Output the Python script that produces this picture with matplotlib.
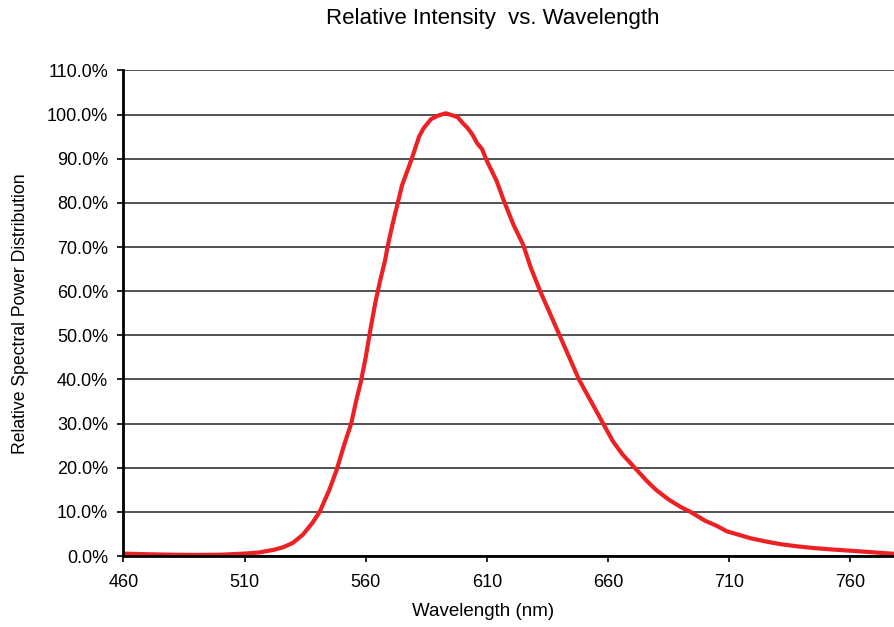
import matplotlib

matplotlib.use("Agg")

import matplotlib.pyplot as plt
from matplotlib.ticker import FuncFormatter

# spectral curve (wavelength nm, relative power %)
wavelength = [
    460, 470, 480, 490, 500, 510, 516, 522, 526, 530, 534, 538, 541, 545, 548,
    551, 554, 556, 558, 560, 562, 564, 566, 568, 569, 571, 573, 575, 577, 579,
    582, 584, 587, 590, 593, 596, 598, 600, 602, 604, 606, 608, 610, 614, 617,
    621, 625, 628, 632, 636, 640, 644, 648, 651, 654, 658, 662, 666, 671, 676,
    680, 685, 690, 694, 700, 705, 709, 714, 719, 725, 731, 738, 745, 752, 760,
    768, 778,
]
relative_power = [
    0.55, 0.4, 0.3, 0.25, 0.3, 0.55, 0.8, 1.4, 2.0, 3.0, 4.8, 7.5, 10.0, 15.0, 19.5,
    25.0, 30.0, 35.0, 39.5, 45.0, 51.5, 57.5, 62.5, 67.0, 70.0, 75.0, 79.5, 84.0, 87.0, 90.0,
    95.0, 97.0, 99.0, 99.8, 100.3, 99.8, 99.4, 98.1, 97.0, 95.5, 93.5, 92.2, 89.5, 85.0, 80.5,
    75.0, 70.5, 65.5, 60.0, 55.0, 50.0, 45.0, 40.0, 37.0, 34.0, 30.0, 26.0, 23.0, 20.0, 17.0,
    14.9, 12.8, 11.1, 10.0, 8.0, 6.8, 5.6, 4.8, 4.0, 3.3, 2.7, 2.2, 1.8, 1.5, 1.2,
    0.9, 0.5,
]
x_ticks = [460, 510, 560, 610, 660, 710, 760]
y_ticks = [0, 10, 20, 30, 40, 50, 60, 70, 80, 90, 100, 110]

plt.rcParams["font.family"] = ["Liberation Sans", "DejaVu Sans"]

fig = plt.figure(figsize=(8.94, 6.27), dpi=100)
ax = fig.add_axes([0.138, 0.1132, 0.862, 0.7744])

ax.plot(wavelength, relative_power, color="#ED2024", linewidth=3.0, solid_capstyle="round")

ax.set_xlim(460, 778)
ax.set_ylim(0, 110)
ax.set_xticks(x_ticks)
ax.set_yticks(y_ticks)
ax.yaxis.set_major_formatter(FuncFormatter(lambda v, _: f"{v:.1f}%"))
ax.tick_params(axis="both", direction="out", length=4, width=1.2, labelsize=13, colors="black")
ax.tick_params(axis="y", pad=7)
ax.tick_params(axis="x", pad=9)

ax.grid(True, axis="y", color="#222222", linewidth=1.1)
ax.set_axisbelow(True)
for side in ("top", "right"):
    ax.spines[side].set_visible(False)
for side in ("left", "bottom"):
    ax.spines[side].set_linewidth(2.0)
    ax.spines[side].set_color("black")

ax.set_xlabel("Wavelength (nm)", fontsize=13.5)
ax.xaxis.set_label_coords(0.467, -0.096)
ax.set_ylabel("Relative Spectral Power Distribution", fontsize=12.7)
ax.yaxis.set_label_coords(-0.122, 0.5)

fig.text(0.551, 0.971, "Relative Intensity  vs. Wavelength", ha="center", va="center", fontsize=16)

fig.savefig("out.png", dpi=100)
